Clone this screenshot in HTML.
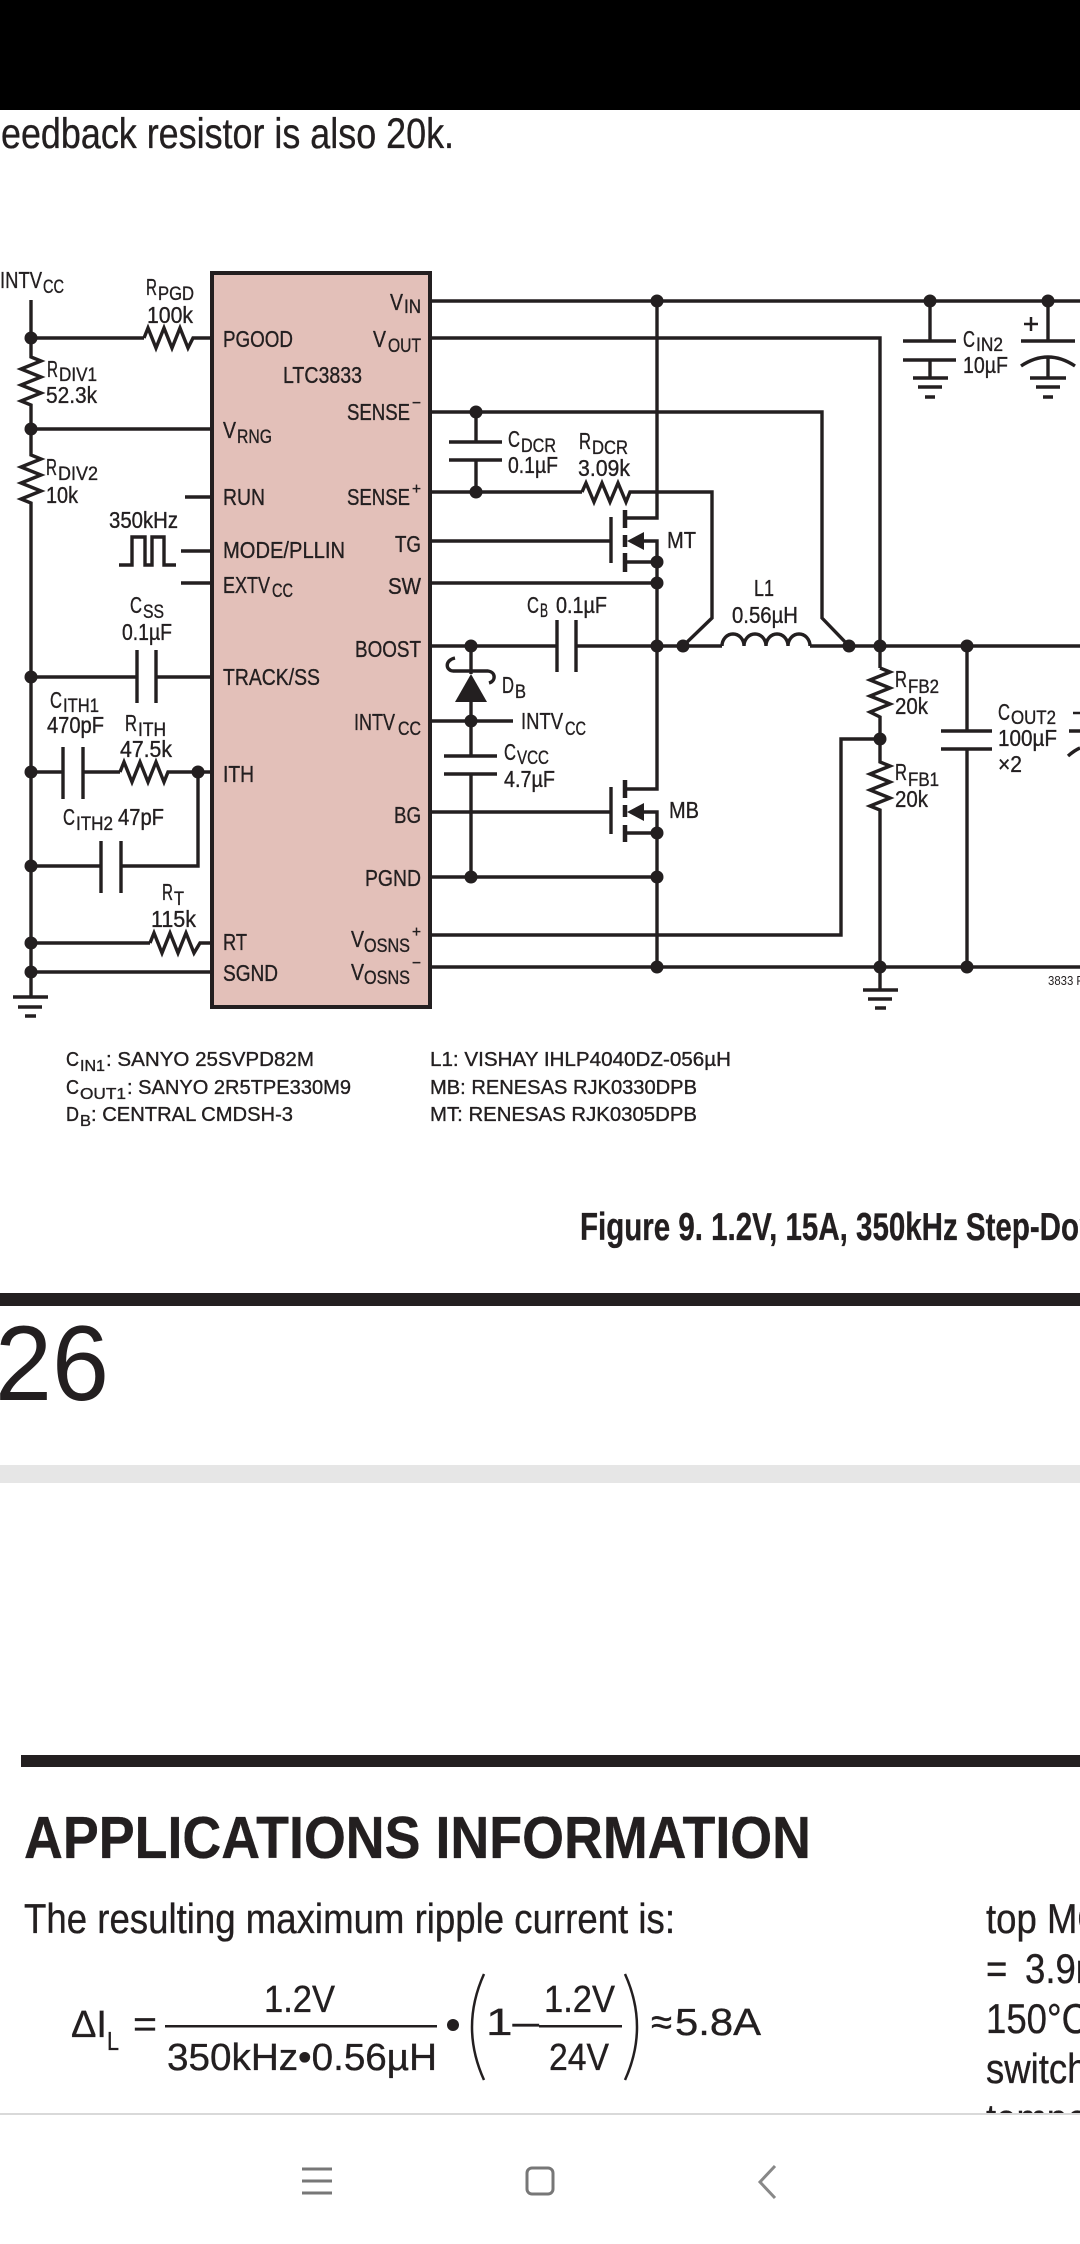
<!DOCTYPE html>
<html><head><meta charset="utf-8"><style>
html,body{margin:0;padding:0;background:#fff;}
svg{display:block;}
text{font-family:"Liberation Sans Narrow","Liberation Sans",sans-serif;fill:#231f20;stroke:#231f20;stroke-width:0.35px;}
.m{font-size:23px}.s{font-size:19px}.sup{font-size:16px}
.p{font-size:20px}.ps{font-size:16px}
.e{font-size:38px}
.b{font-size:42px}
.thin{stroke-width:0}
</style></head><body>
<svg width="1080" height="2244" viewBox="0 0 1080 2244" xmlns="http://www.w3.org/2000/svg">
<rect width="1080" height="2244" fill="#fff"/>
<rect x="0" y="0" width="1080" height="110" fill="#000"/>
<text x="1" y="148" font-size="43" textLength="453" lengthAdjust="spacingAndGlyphs">eedback resistor is also 20k.</text>

<!-- IC -->
<rect x="212" y="273" width="218" height="734" fill="#e3c0b9" stroke="#231f20" stroke-width="4"/>

<g stroke="#231f20" stroke-width="3.4" fill="none">
<!-- left rail -->
<polyline points="31,300 31,357 41,361 21,369 41,377 21,385 41,393 21,401 31,405 31,455 41,459 21,467 41,475 21,483 41,491 21,499 31,503 31,997"/>
<path d="M13,997H48M18,1007H42M25,1016H36" stroke-width="3.5"/>
<path d="M31,338H144"/>
<polyline points="144,338 148,328 156,348 164,328 172,348 180,328 188,348 193,338 212,338"/>
<path d="M31,429H212"/>
<path d="M185,497H212M181,551H212M181,583H212"/>
<polyline points="119,565 132,565 132,537 145,537 145,565 152,565 152,537 164,537 164,565 176,565"/>
<path d="M31,677H137M156,677H212M137,650V703M156,650V703"/>
<path d="M31,772H63M83,772H120M63,747V799M83,747V799"/>
<polyline points="120,772 124,762 132,782 140,762 148,782 156,762 164,782 168,772 212,772"/>
<path d="M198,772V866H121M101,866H31M101,841V893M121,841V893"/>
<path d="M31,943H150"/>
<polyline points="150,943 154,933 162,953 170,933 178,953 186,933 194,953 200,943 212,943"/>
<path d="M31,972H212"/>

<!-- right side -->
<path d="M430,301H1080"/>
<path d="M657,301V518H625"/>
<path d="M430,338H880V646"/>
<path d="M430,412H822V618L849,646"/>
<path d="M476,412V442M449,442H502M449,460H502M476,460V492"/>
<path d="M430,492H582"/>
<polyline points="582,492 586,483 594,502 602,483 610,502 618,483 626,502 630,492 712,492 712,618 683,646"/>
<path d="M430,541H611M611,517V563"/>
<path d="M625,510V528M625,535V547M625,553V572" stroke-width="4.5"/>
<path d="M625,562H657M643,541H657V562"/>
<path d="M430,583H657"/>
<path d="M657,562V789H625"/>
<path d="M430,646H557M576,646H722M810,646H1080"/>
<path d="M557,620V672M576,620V672"/>
<path d="M722,646a11,12 0 0 1 22,0a11,12 0 0 1 22,0a11,12 0 0 1 22,0a11,12 0 0 1 22,0"/>
<path d="M471,646V674M471,702V721"/>
<path d="M455,658C445,660 445,670 453,671L488,671C496,672 496,681 489,683"/>
<path d="M430,721H513"/>
<path d="M471,721V756M444,756H497M444,774H497M471,774V877"/>
<path d="M430,812H611M611,787V834"/>
<path d="M625,780V798M625,805V817M625,825V842" stroke-width="4.5"/>
<path d="M625,833H657M643,812H657V833"/>
<path d="M657,833V967"/>
<path d="M430,877H657"/>
<path d="M430,935H841V739H880"/>
<path d="M430,967H1080"/>
<path d="M880,646V668"/>
<polyline points="880,668 890,672 870,680 890,688 870,696 890,704 870,712 880,717 880,762 890,766 870,774 890,782 870,790 890,798 870,806 880,810 880,990"/>
<path d="M863,990H898M868,999H892M875,1008H886" stroke-width="3.5"/>
<path d="M967,646V731M941,731H992M941,749H992M967,749V967"/>
<path d="M930,301V341M903,341H956M903,360H956M930,360V378"/>
<path d="M913,378H948M918,387H942M925,397H935" stroke-width="3.5"/>
<path d="M1048,301V341M1021,341H1075M1021,366Q1048,348 1075,366M1048,357V378"/>
<path d="M1030,378H1066M1036,387H1060M1043,397H1053" stroke-width="3.5"/>
<path d="M1024,324H1038M1031,317V331" stroke-width="2.5"/>
<path d="M1069,731H1080M1068,756Q1075,750 1080,748"/>
<path d="M1073,713H1080" stroke-width="2.5"/>
</g>
<g fill="#231f20">
<polygon points="627,541 644,532 644,550"/>
<polygon points="627,812 644,803 644,821"/>
<polygon points="471,674 455,702 487,702"/>
<circle cx="31" cy="338" r="6.5"/><circle cx="31" cy="429" r="6.5"/><circle cx="31" cy="677" r="6.5"/>
<circle cx="31" cy="772" r="6.5"/><circle cx="31" cy="866" r="6.5"/><circle cx="31" cy="943" r="6.5"/>
<circle cx="31" cy="972" r="6.5"/><circle cx="198" cy="772" r="6.5"/>
<circle cx="657" cy="301" r="6.5"/><circle cx="930" cy="301" r="6.5"/><circle cx="1048" cy="301" r="6.5"/>
<circle cx="476" cy="412" r="6.5"/><circle cx="476" cy="492" r="6.5"/>
<circle cx="657" cy="562" r="6.5"/><circle cx="657" cy="583" r="6.5"/>
<circle cx="471" cy="646" r="6.5"/><circle cx="657" cy="646" r="6.5"/><circle cx="683" cy="646" r="6.5"/>
<circle cx="849" cy="646" r="6.5"/><circle cx="880" cy="646" r="6.5"/><circle cx="967" cy="646" r="6.5"/>
<circle cx="471" cy="721" r="6.5"/><circle cx="657" cy="833" r="6.5"/>
<circle cx="471" cy="877" r="6.5"/><circle cx="657" cy="877" r="6.5"/>
<circle cx="880" cy="739" r="6.5"/>
<circle cx="657" cy="967" r="6.5"/><circle cx="880" cy="967" r="6.5"/><circle cx="967" cy="967" r="6.5"/>
</g>

<g>
<!-- IC pin labels -->
<text class="m" x="223" y="347" textLength="70" lengthAdjust="spacingAndGlyphs">PGOOD</text>
<text class="m" x="223" y="438" textLength="13" lengthAdjust="spacingAndGlyphs">V</text>
<text class="s" x="237" y="443" textLength="35" lengthAdjust="spacingAndGlyphs">RNG</text>
<text class="m" x="223" y="505" textLength="42" lengthAdjust="spacingAndGlyphs">RUN</text>
<text class="m" x="223" y="558" textLength="122" lengthAdjust="spacingAndGlyphs">MODE/PLLIN</text>
<text class="m" x="223" y="593" textLength="47" lengthAdjust="spacingAndGlyphs">EXTV</text>
<text class="s" x="272" y="597" textLength="21" lengthAdjust="spacingAndGlyphs">CC</text>
<text class="m" x="223" y="685" textLength="97" lengthAdjust="spacingAndGlyphs">TRACK/SS</text>
<text class="m" x="223" y="782" textLength="31" lengthAdjust="spacingAndGlyphs">ITH</text>
<text class="m" x="223" y="950" textLength="24" lengthAdjust="spacingAndGlyphs">RT</text>
<text class="m" x="223" y="981" textLength="55" lengthAdjust="spacingAndGlyphs">SGND</text>
<text class="m" x="390" y="310" textLength="13" lengthAdjust="spacingAndGlyphs">V</text>
<text class="s" x="404" y="313" textLength="17" lengthAdjust="spacingAndGlyphs">IN</text>
<text class="m" x="373" y="347" textLength="13" lengthAdjust="spacingAndGlyphs">V</text>
<text class="s" x="388" y="352" textLength="33" lengthAdjust="spacingAndGlyphs">OUT</text>
<text class="m" x="283" y="383" textLength="79" lengthAdjust="spacingAndGlyphs">LTC3833</text>
<text class="m" x="347" y="420" textLength="63" lengthAdjust="spacingAndGlyphs">SENSE</text>
<text class="sup" x="412" y="408" textLength="9" lengthAdjust="spacingAndGlyphs">−</text>
<text class="m" x="347" y="505" textLength="63" lengthAdjust="spacingAndGlyphs">SENSE</text>
<text class="sup" x="412" y="494" textLength="9" lengthAdjust="spacingAndGlyphs">+</text>
<text class="m" x="395" y="552" textLength="26" lengthAdjust="spacingAndGlyphs">TG</text>
<text class="m" x="388" y="594" textLength="33" lengthAdjust="spacingAndGlyphs">SW</text>
<text class="m" x="355" y="657" textLength="66" lengthAdjust="spacingAndGlyphs">BOOST</text>
<text class="m" x="354" y="730" textLength="41" lengthAdjust="spacingAndGlyphs">INTV</text>
<text class="s" x="398" y="735" textLength="23" lengthAdjust="spacingAndGlyphs">CC</text>
<text class="m" x="394" y="823" textLength="27" lengthAdjust="spacingAndGlyphs">BG</text>
<text class="m" x="365" y="886" textLength="56" lengthAdjust="spacingAndGlyphs">PGND</text>
<text class="m" x="351" y="947" textLength="13" lengthAdjust="spacingAndGlyphs">V</text>
<text class="s" x="364" y="952" textLength="46" lengthAdjust="spacingAndGlyphs">OSNS</text>
<text class="sup" x="412" y="937" textLength="9" lengthAdjust="spacingAndGlyphs">+</text>
<text class="m" x="351" y="980" textLength="13" lengthAdjust="spacingAndGlyphs">V</text>
<text class="s" x="364" y="984" textLength="46" lengthAdjust="spacingAndGlyphs">OSNS</text>
<text class="sup" x="412" y="968" textLength="9" lengthAdjust="spacingAndGlyphs">−</text>

<!-- external labels -->
<text class="m" x="0" y="288" textLength="42" lengthAdjust="spacingAndGlyphs">INTV</text>
<text class="s" x="43" y="293" textLength="21" lengthAdjust="spacingAndGlyphs">CC</text>
<text class="m" x="146" y="295" textLength="11" lengthAdjust="spacingAndGlyphs">R</text>
<text class="s" x="158" y="300" textLength="36" lengthAdjust="spacingAndGlyphs">PGD</text>
<text class="m" x="147" y="323" textLength="46" lengthAdjust="spacingAndGlyphs">100k</text>
<text class="m" x="47" y="377" textLength="11" lengthAdjust="spacingAndGlyphs">R</text>
<text class="s" x="59" y="381" textLength="38" lengthAdjust="spacingAndGlyphs">DIV1</text>
<text class="m" x="46" y="403" textLength="51" lengthAdjust="spacingAndGlyphs">52.3k</text>
<text class="m" x="46" y="475" textLength="11" lengthAdjust="spacingAndGlyphs">R</text>
<text class="s" x="58" y="480" textLength="40" lengthAdjust="spacingAndGlyphs">DIV2</text>
<text class="m" x="46" y="503" textLength="32" lengthAdjust="spacingAndGlyphs">10k</text>
<text class="m" x="109" y="528" textLength="69" lengthAdjust="spacingAndGlyphs">350kHz</text>
<text class="m" x="130" y="613" textLength="12" lengthAdjust="spacingAndGlyphs">C</text>
<text class="s" x="143" y="618" textLength="21" lengthAdjust="spacingAndGlyphs">SS</text>
<text class="m" x="122" y="640" textLength="50" lengthAdjust="spacingAndGlyphs">0.1µF</text>
<text class="m" x="50" y="708" textLength="12" lengthAdjust="spacingAndGlyphs">C</text>
<text class="s" x="63" y="712" textLength="36" lengthAdjust="spacingAndGlyphs">ITH1</text>
<text class="m" x="47" y="733" textLength="57" lengthAdjust="spacingAndGlyphs">470pF</text>
<text class="m" x="125" y="731" textLength="12" lengthAdjust="spacingAndGlyphs">R</text>
<text class="s" x="138" y="736" textLength="28" lengthAdjust="spacingAndGlyphs">ITH</text>
<text class="m" x="120" y="757" textLength="52" lengthAdjust="spacingAndGlyphs">47.5k</text>
<text class="m" x="63" y="825" textLength="12" lengthAdjust="spacingAndGlyphs">C</text>
<text class="s" x="76" y="830" textLength="37" lengthAdjust="spacingAndGlyphs">ITH2</text>
<text class="m" x="118" y="825" textLength="46" lengthAdjust="spacingAndGlyphs">47pF</text>
<text class="m" x="162" y="900" textLength="11" lengthAdjust="spacingAndGlyphs">R</text>
<text class="s" x="174" y="905" textLength="10" lengthAdjust="spacingAndGlyphs">T</text>
<text class="m" x="151" y="927" textLength="45" lengthAdjust="spacingAndGlyphs">115k</text>
<text class="m" x="508" y="447" textLength="12" lengthAdjust="spacingAndGlyphs">C</text>
<text class="s" x="521" y="452" textLength="35" lengthAdjust="spacingAndGlyphs">DCR</text>
<text class="m" x="508" y="473" textLength="50" lengthAdjust="spacingAndGlyphs">0.1µF</text>
<text class="m" x="579" y="449" textLength="12" lengthAdjust="spacingAndGlyphs">R</text>
<text class="s" x="592" y="454" textLength="36" lengthAdjust="spacingAndGlyphs">DCR</text>
<text class="m" x="578" y="476" textLength="52" lengthAdjust="spacingAndGlyphs">3.09k</text>
<text class="m" x="667" y="548" textLength="29" lengthAdjust="spacingAndGlyphs">MT</text>
<text class="m" x="527" y="613" textLength="12" lengthAdjust="spacingAndGlyphs">C</text>
<text class="s" x="540" y="617" textLength="8" lengthAdjust="spacingAndGlyphs">B</text>
<text class="m" x="556" y="613" textLength="51" lengthAdjust="spacingAndGlyphs">0.1µF</text>
<text class="m" x="754" y="596" textLength="20" lengthAdjust="spacingAndGlyphs">L1</text>
<text class="m" x="732" y="623" textLength="66" lengthAdjust="spacingAndGlyphs">0.56µH</text>
<text class="m" x="502" y="693" textLength="12" lengthAdjust="spacingAndGlyphs">D</text>
<text class="s" x="515" y="698" textLength="11" lengthAdjust="spacingAndGlyphs">B</text>
<text class="m" x="521" y="729" textLength="42" lengthAdjust="spacingAndGlyphs">INTV</text>
<text class="s" x="565" y="735" textLength="21" lengthAdjust="spacingAndGlyphs">CC</text>
<text class="m" x="504" y="760" textLength="12" lengthAdjust="spacingAndGlyphs">C</text>
<text class="s" x="517" y="764" textLength="32" lengthAdjust="spacingAndGlyphs">VCC</text>
<text class="m" x="504" y="787" textLength="51" lengthAdjust="spacingAndGlyphs">4.7µF</text>
<text class="m" x="669" y="818" textLength="30" lengthAdjust="spacingAndGlyphs">MB</text>
<text class="m" x="963" y="347" textLength="12" lengthAdjust="spacingAndGlyphs">C</text>
<text class="s" x="976" y="351" textLength="27" lengthAdjust="spacingAndGlyphs">IN2</text>
<text class="m" x="963" y="373" textLength="45" lengthAdjust="spacingAndGlyphs">10µF</text>
<text class="m" x="895" y="687" textLength="12" lengthAdjust="spacingAndGlyphs">R</text>
<text class="s" x="908" y="693" textLength="31" lengthAdjust="spacingAndGlyphs">FB2</text>
<text class="m" x="895" y="714" textLength="33" lengthAdjust="spacingAndGlyphs">20k</text>
<text class="m" x="895" y="780" textLength="12" lengthAdjust="spacingAndGlyphs">R</text>
<text class="s" x="908" y="786" textLength="31" lengthAdjust="spacingAndGlyphs">FB1</text>
<text class="m" x="895" y="807" textLength="33" lengthAdjust="spacingAndGlyphs">20k</text>
<text class="m" x="998" y="720" textLength="12" lengthAdjust="spacingAndGlyphs">C</text>
<text class="s" x="1011" y="724" textLength="45" lengthAdjust="spacingAndGlyphs">OUT2</text>
<text class="m" x="998" y="746" textLength="59" lengthAdjust="spacingAndGlyphs">100µF</text>
<text class="m" x="998" y="772" textLength="24" lengthAdjust="spacingAndGlyphs">×2</text>
<text class="thin" x="1048" y="985" font-size="13" fill="#3a2a20" textLength="48" lengthAdjust="spacingAndGlyphs">3833 F09</text>

<!-- parts list -->
<text class="p" x="66" y="1066" textLength="13" lengthAdjust="spacingAndGlyphs">C</text>
<text class="ps" x="80" y="1071" textLength="25" lengthAdjust="spacingAndGlyphs">IN1</text>
<text class="p" x="106" y="1066" textLength="208" lengthAdjust="spacingAndGlyphs">: SANYO 25SVPD82M</text>
<text class="p" x="66" y="1094" textLength="13" lengthAdjust="spacingAndGlyphs">C</text>
<text class="ps" x="80" y="1099" textLength="46" lengthAdjust="spacingAndGlyphs">OUT1</text>
<text class="p" x="127" y="1094" textLength="224" lengthAdjust="spacingAndGlyphs">: SANYO 2R5TPE330M9</text>
<text class="p" x="66" y="1121" textLength="13" lengthAdjust="spacingAndGlyphs">D</text>
<text class="ps" x="80" y="1126" textLength="11" lengthAdjust="spacingAndGlyphs">B</text>
<text class="p" x="91" y="1121" textLength="202" lengthAdjust="spacingAndGlyphs">: CENTRAL CMDSH-3</text>
<text class="p" x="430" y="1066" textLength="301" lengthAdjust="spacingAndGlyphs">L1: VISHAY IHLP4040DZ-056µH</text>
<text class="p" x="430" y="1094" textLength="267" lengthAdjust="spacingAndGlyphs">MB: RENESAS RJK0330DPB</text>
<text class="p" x="430" y="1121" textLength="267" lengthAdjust="spacingAndGlyphs">MT: RENESAS RJK0305DPB</text>

<!-- caption -->
<text x="580" y="1240" font-size="39" font-weight="bold" textLength="499" lengthAdjust="spacingAndGlyphs">Figure 9. 1.2V, 15A, 350kHz Step-Do</text>
<text x="1080" y="1240" font-size="39" font-weight="bold">wn Converter</text>
</g>

<rect x="0" y="1293" width="1080" height="13" fill="#231f20"/>
<text class="thin" x="-5" y="1400" font-size="107" textLength="114" lengthAdjust="spacingAndGlyphs">26</text>
<rect x="0" y="1465" width="1080" height="18" fill="#e6e6e6"/>

<rect x="21" y="1755" width="1059" height="12" fill="#231f20"/>
<text x="24" y="1858" font-size="59" font-weight="bold" textLength="787" lengthAdjust="spacingAndGlyphs">APPLICATIONS INFORMATION</text>
<text class="b" x="24" y="1933" textLength="651" lengthAdjust="spacingAndGlyphs">The resulting maximum ripple current is:</text>

<!-- equation -->
<text class="e" x="71" y="2037" textLength="36" lengthAdjust="spacingAndGlyphs">ΔI</text>
<text x="107" y="2050" font-size="26" textLength="12" lengthAdjust="spacingAndGlyphs">L</text>
<text class="e" x="133" y="2037" textLength="24" lengthAdjust="spacingAndGlyphs">=</text>
<text class="e" x="264" y="2012" textLength="71" lengthAdjust="spacingAndGlyphs">1.2V</text>
<rect x="165" y="2025" width="272" height="2.5" fill="#231f20"/>
<text class="e" x="167" y="2070" textLength="270" lengthAdjust="spacingAndGlyphs">350kHz•0.56µH</text>
<circle cx="453" cy="2025" r="6" fill="#231f20"/>
<path d="M484,1974Q460,2027 484,2080M625,1974Q649,2027 625,2080" stroke="#231f20" stroke-width="2.5" fill="none"/>
<text class="e" x="486" y="2035" textLength="53" lengthAdjust="spacingAndGlyphs">1–</text>
<text class="e" x="544" y="2012" textLength="71" lengthAdjust="spacingAndGlyphs">1.2V</text>
<rect x="539" y="2025" width="83" height="2.5" fill="#231f20"/>
<text class="e" x="549" y="2070" textLength="60" lengthAdjust="spacingAndGlyphs">24V</text>
<text class="e" x="651" y="2035" textLength="21" lengthAdjust="spacingAndGlyphs">≈</text>
<text class="e" x="675" y="2035" textLength="86" lengthAdjust="spacingAndGlyphs">5.8A</text>

<!-- right column -->
<text class="b" transform="translate(986,1933) scale(0.87,1)">top MOSFET</text>
<text class="b" transform="translate(986,1983) scale(0.87,1)">=</text>
<text class="b" transform="translate(1025,1983) scale(0.87,1)">3.9mΩ</text>
<text class="b" transform="translate(986,2033) scale(0.87,1)">150°C</text>
<text class="b" transform="translate(986,2083) scale(0.87,1)">switch</text>
<text class="b" transform="translate(986,2133) scale(0.87,1)">temperature</text>

<!-- nav bar -->
<rect x="0" y="2115" width="1080" height="129" fill="#fff"/>
<path d="M0,2114H1080" stroke="#d9d9d9" stroke-width="2"/>
<path d="M302,2169H332M302,2181H332M302,2193H332" stroke="#777" stroke-width="3"/>
<rect x="527" y="2168" width="26" height="26" rx="5" fill="none" stroke="#777" stroke-width="3"/>
<polyline points="775,2166 760,2182 775,2198" fill="none" stroke="#888" stroke-width="3"/>
</svg>
</body></html>
